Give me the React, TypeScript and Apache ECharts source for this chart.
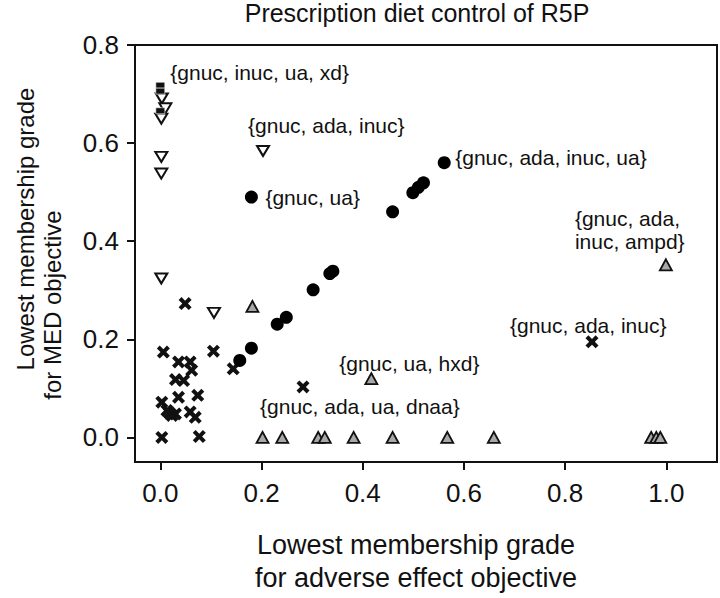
import React, { useEffect, useRef } from "react";
import * as echarts from "echarts";

// ---- data (x: lowest membership grade for adverse effect objective, y: for MED objective)
const circles: [number, number][] = [
  [0.18, 0.49], [0.459, 0.46], [0.499, 0.499], [0.51, 0.51], [0.52, 0.519],
  [0.561, 0.56], [0.341, 0.339], [0.335, 0.334], [0.302, 0.301], [0.249, 0.245],
  [0.231, 0.231], [0.18, 0.182], [0.157, 0.157],
];
const crosses: [number, number][] = [
  [0.049, 0.273], [0.006, 0.174], [0.036, 0.154], [0.059, 0.154], [0.062, 0.137],
  [0.105, 0.176], [0.144, 0.14], [0.03, 0.118], [0.046, 0.116], [0.036, 0.082],
  [0.074, 0.086], [0.003, 0.072], [0.013, 0.055], [0.023, 0.045], [0.03, 0.048],
  [0.018, 0.05], [0.059, 0.052], [0.069, 0.041], [0.003, 0.0], [0.077, 0.002],
  [0.282, 0.103], [0.853, 0.195],
];
const downTriangles: [number, number][] = [
  [0.003, 0.691], [0.01, 0.671], [0.002, 0.65], [0.002, 0.572], [0.002, 0.538],
  [0.002, 0.324], [0.203, 0.584], [0.106, 0.254],
];
const upTriangles: [number, number][] = [
  [0.182, 0.267], [0.417, 0.12], [0.999, 0.352], [0.202, 0], [0.241, 0],
  [0.312, 0], [0.325, 0], [0.382, 0], [0.459, 0], [0.567, 0], [0.659, 0],
  [0.97, 0], [0.98, 0], [0.988, 0],
];
const squares: [number, number][] = [
  [0.0, 0.718], [0.0, 0.706], [0.0, 0.666],
];
const xTicks = [0, 0.2, 0.4, 0.6, 0.8, 1.0];
const yTicks = [0, 0.2, 0.4, 0.6, 0.8];

const title = "Prescription diet control of R5P";
const xNameLines = ["Lowest membership grade", "for adverse effect objective"];
const yNameLines = ["Lowest membership grade", "for MED objective"];

// annotations: which point carries which label
const annotations = [
  { series: "squares", index: 0, text: "{gnuc, inuc, ua, xd}" },
  { series: "down", index: 6, text: "{gnuc, ada, inuc}" },
  { series: "circles", index: 0, text: "{gnuc, ua}" },
  { series: "circles", index: 5, text: "{gnuc, ada, inuc, ua}" },
  { series: "up", index: 2, text: "{gnuc, ada,\ninuc, ampd}" },
  { series: "crosses", index: 21, text: "{gnuc, ada, inuc}" },
  { series: "up", index: 1, text: "{gnuc, ua, hxd}" },
  { series: "crosses", index: 20, text: "{gnuc, ada, ua, dnaa}" },
];
// label layout (pixel offsets from the point), kept apart from data
const labelOffsets: number[][] = [
  [10, -13], [-15, -25], [14, 0], [11, -5], [-91, -35], [-82, -16], [-32, -15], [-43, 20],
];

const FONT = "Liberation Sans, Arial, Helvetica, sans-serif";
const INK = "#111111";
const CROSS =
  "path://M0,2.2 L2.2,0 L5,2.8 L7.8,0 L10,2.2 L7.2,5 L10,7.8 L7.8,10 L5,7.2 L2.2,10 L0,7.8 L2.8,5 Z";

function buildData(name: string, pts: [number, number][]) {
  return pts.map((p, i) => {
    const k = annotations.findIndex((a) => a.series === name && a.index === i);
    if (k < 0) return { value: p };
    return {
      value: p,
      label: {
        show: true,
        formatter: annotations[k].text,
        position: "inside",
        align: "left",
        verticalAlign: "middle",
        offset: labelOffsets[k],
        fontSize: 21,
        lineHeight: 23,
        fontFamily: FONT,
        color: INK,
      },
    };
  });
}

export default function App() {
  const ref = useRef<HTMLDivElement>(null);
  useEffect(() => {
    if (!ref.current) return;
    const chart = echarts.init(ref.current, null, { renderer: "svg" });
    const textStyle = (size: number) => ({
      fontSize: size, fontFamily: FONT, fill: INK,
      align: "center", verticalAlign: "middle", textAlign: "center", textVerticalAlign: "middle",
    });
    const option: any = {
      animation: false,
      backgroundColor: "#ffffff",
      grid: {
        left: 135, right: 3, top: 45, bottom: 136,
        show: true, borderColor: INK, borderWidth: 2, backgroundColor: "transparent",
      },
      xAxis: {
        type: "value", min: -0.05, max: 1.1,
        splitLine: { show: false },
        axisLine: { show: true, onZero: false, lineStyle: { color: INK, width: 2 } },
        axisTick: { show: true, length: 8, customValues: xTicks, lineStyle: { color: INK, width: 2 } },
        axisLabel: {
          customValues: xTicks, formatter: (v: number) => v.toFixed(1),
          fontSize: 26, fontFamily: FONT, color: INK, margin: 18,
        },
      },
      yAxis: {
        type: "value", min: -0.05, max: 0.8,
        splitLine: { show: false },
        axisLine: { show: true, onZero: false, lineStyle: { color: INK, width: 2 } },
        axisTick: { show: true, length: 8, customValues: yTicks, lineStyle: { color: INK, width: 2 } },
        axisLabel: {
          customValues: yTicks, formatter: (v: number) => v.toFixed(1),
          fontSize: 26, fontFamily: FONT, color: INK, margin: 16,
        },
      },
      graphic: [
        { type: "text", x: 417, y: 13, style: { text: title, ...textStyle(25) } },
        { type: "text", x: 416, y: 545, style: { text: xNameLines[0], ...textStyle(27) } },
        { type: "text", x: 416, y: 578, style: { text: xNameLines[1], ...textStyle(27) } },
        { type: "text", x: 25, y: 229, rotation: Math.PI / 2, style: { text: yNameLines[0], ...textStyle(24) } },
        { type: "text", x: 52, y: 305, rotation: Math.PI / 2, style: { text: yNameLines[1], ...textStyle(24) } },
      ],
      series: [
        {
          name: "up", type: "scatter", symbol: "triangle", symbolSize: [12, 11],
          itemStyle: { color: "#a8a8a8", borderColor: INK, borderWidth: 1.8, opacity: 1 },
          data: buildData("up", upTriangles),
        },
        {
          name: "down", type: "scatter", symbol: "triangle", symbolRotate: 180, symbolSize: [12, 10],
          itemStyle: { color: "#ffffff", borderColor: INK, borderWidth: 2, opacity: 1 },
          data: buildData("down", downTriangles),
        },
        {
          name: "crosses", type: "scatter", symbol: CROSS, symbolSize: 13,
          itemStyle: { color: INK, opacity: 1 },
          data: buildData("crosses", crosses),
        },
        {
          name: "circles", type: "scatter", symbol: "circle", symbolSize: 13,
          itemStyle: { color: "#000000", opacity: 1 },
          data: buildData("circles", circles),
        },
        {
          name: "squares", type: "scatter", symbol: "rect", symbolSize: [9, 6],
          itemStyle: { color: INK, borderColor: "#ffffff", borderWidth: 0.6, opacity: 1 },
          data: buildData("squares", squares),
        },
      ],
    };
    chart.setOption(option);
    return () => chart.dispose();
  }, []);
  return (
    <div
      ref={ref}
      style={{ position: "fixed", left: 0, top: 0, width: 720, height: 598, background: "#fff" }}
    />
  );
}
